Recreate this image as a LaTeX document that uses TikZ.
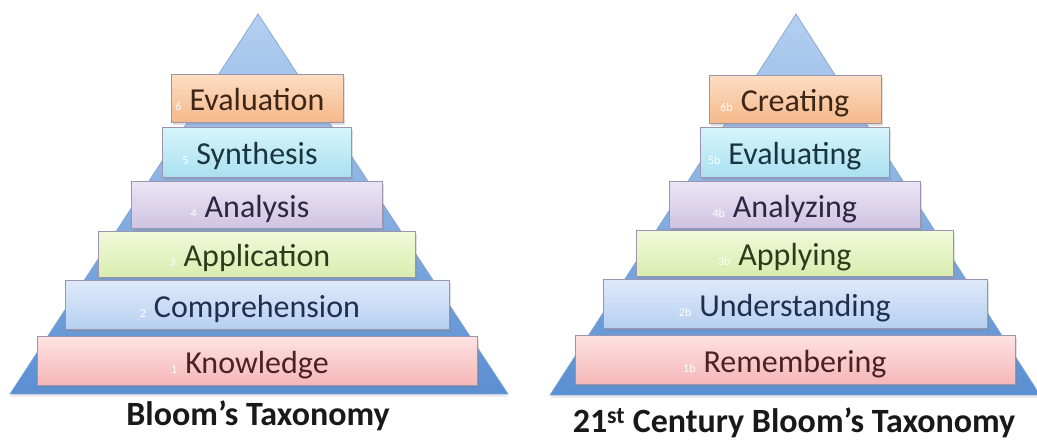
\documentclass[tikz,border=0pt]{standalone}
\usepackage{fontspec}
\setmainfont{Carlito}
\usetikzlibrary{positioning, shadows}

\definecolor{pyrtop}{HTML}{B4CFF0}
\definecolor{pyrbot}{HTML}{5A8FD2}
\definecolor{pyredge}{HTML}{7A9FCF}
\definecolor{baredge}{HTML}{9C93AE}
% tier fills (top / bottom) and texts
\definecolor{pinktop}{HTML}{FDE2E2}   \definecolor{pinkbot}{HTML}{F5B6B6}   \definecolor{pinktxt}{HTML}{4A2222}
\definecolor{bluetop}{HTML}{DEEAFA}   \definecolor{bluebot}{HTML}{B6CFF0}   \definecolor{bluetxt}{HTML}{1F2F50}
\definecolor{greentop}{HTML}{F1F9DA}  \definecolor{greenbot}{HTML}{DAECAE}  \definecolor{greentxt}{HTML}{2E3A1C}
\definecolor{purpletop}{HTML}{EBE4F4} \definecolor{purplebot}{HTML}{CEC3E2} \definecolor{purpletxt}{HTML}{2E2545}
\definecolor{cyantop}{HTML}{D6F4FB}   \definecolor{cyanbot}{HTML}{A9E0F0}   \definecolor{cyantxt}{HTML}{1A3540}
\definecolor{orangetop}{HTML}{FCDDC2} \definecolor{orangebot}{HTML}{F5B88A} \definecolor{orangetxt}{HTML}{3D2616}

\newcommand{\tiernum}[1]{\llap{\fontsize{12}{12}\selectfont\color{white}#1\hspace{8pt}}}

\tikzstyle{pyramid} = [top color=pyrtop, bottom color=pyrbot, draw=pyredge, line width=0.6pt, drop shadow={opacity=0.15, shadow xshift=0pt, shadow yshift=-3pt}]
\tikzstyle{tier} = [rectangle, draw=baredge, line width=1pt, text centered, inner sep=0pt, font=\fontsize{32}{36}\selectfont, text height=24pt, text depth=0pt, drop shadow={opacity=0.25, shadow xshift=1.5pt, shadow yshift=-2pt}]
\tikzstyle{pinkbar} = [tier, minimum width=440pt, minimum height=49pt, top color=pinktop, bottom color=pinkbot, text=pinktxt]
\tikzstyle{bluebar} = [tier, minimum width=384pt, minimum height=49pt, top color=bluetop, bottom color=bluebot, text=bluetxt]
\tikzstyle{greenbar} = [tier, minimum width=317pt, minimum height=46pt, top color=greentop, bottom color=greenbot, text=greentxt]
\tikzstyle{purplebar} = [tier, minimum width=251pt, minimum height=47pt, top color=purpletop, bottom color=purplebot, text=purpletxt]
\tikzstyle{cyanbar} = [tier, minimum width=189pt, minimum height=50pt, top color=cyantop, bottom color=cyanbot, text=cyantxt]
\tikzstyle{orangebar} = [tier, minimum width=172pt, minimum height=48pt, top color=orangetop, bottom color=orangebot, text=orangetxt]
\tikzstyle{caption} = [font=\bfseries\fontsize{34}{40}\selectfont, anchor=base, text=black!90]

\begin{document}
\begin{tikzpicture}[x=1pt, y=-1pt]
    \fill [white] (0,0) rectangle (1037,446);
    \useasboundingbox (0,0) rectangle (1037,446);

    % left pyramid
    \coordinate (lapex)  at (258,14);
    \coordinate (lleft)  at (10,394);
    \coordinate (lright) at (508,394);
    \draw [pyramid] (lapex) -- (lleft) -- (lright) -- cycle;

    \node [pinkbar]   at (257,361.5)                (know)    {\tiernum{1}Knowledge};
    \node [bluebar,   above=6pt of know]            (compr)   {\tiernum{2}Comprehension};
    \node [greenbar,  above=2pt of compr]           (appl)    {\tiernum{3}Application};
    \node [purplebar, above=2pt of appl]            (anal)    {\tiernum{4}Analysis};
    \node [cyanbar,   above=3pt of anal]            (synth)   {\tiernum{5}Synthesis};
    \node [orangebar, above=4pt of synth]           (evalu)   {\tiernum{6}Evaluation};

    \node [caption] at (258,425)                    (oldtitle) {Bloom’s Taxonomy};

    % right pyramid
    \coordinate (rapex)  at (796,14);
    \coordinate (rleft)  at (550,395);
    \coordinate (rright) at (1040,395);
    \draw [pyramid] (rapex) -- (rleft) -- (rright) -- cycle;

    \node [pinkbar]   at (795,360.5)                (remem)   {\tiernum{1b}Remembering};
    \node [bluebar,   above=6pt of remem]           (under)   {\tiernum{2b}Understanding};
    \node [greenbar,  above=2pt of under]           (apply)   {\tiernum{3b}Applying};
    \node [purplebar, above=1pt of apply]           (analy)   {\tiernum{4b}Analyzing};
    \node [cyanbar,   above=3pt of analy]           (evalg)   {\tiernum{5b}Evaluating};
    \node [orangebar, above=3pt of evalg]           (creat)   {\tiernum{6b}Creating};

    \node [caption] at (794,433)                    (newtitle) {21\textsuperscript{st} Century Bloom’s Taxonomy};
\end{tikzpicture}
\end{document}
